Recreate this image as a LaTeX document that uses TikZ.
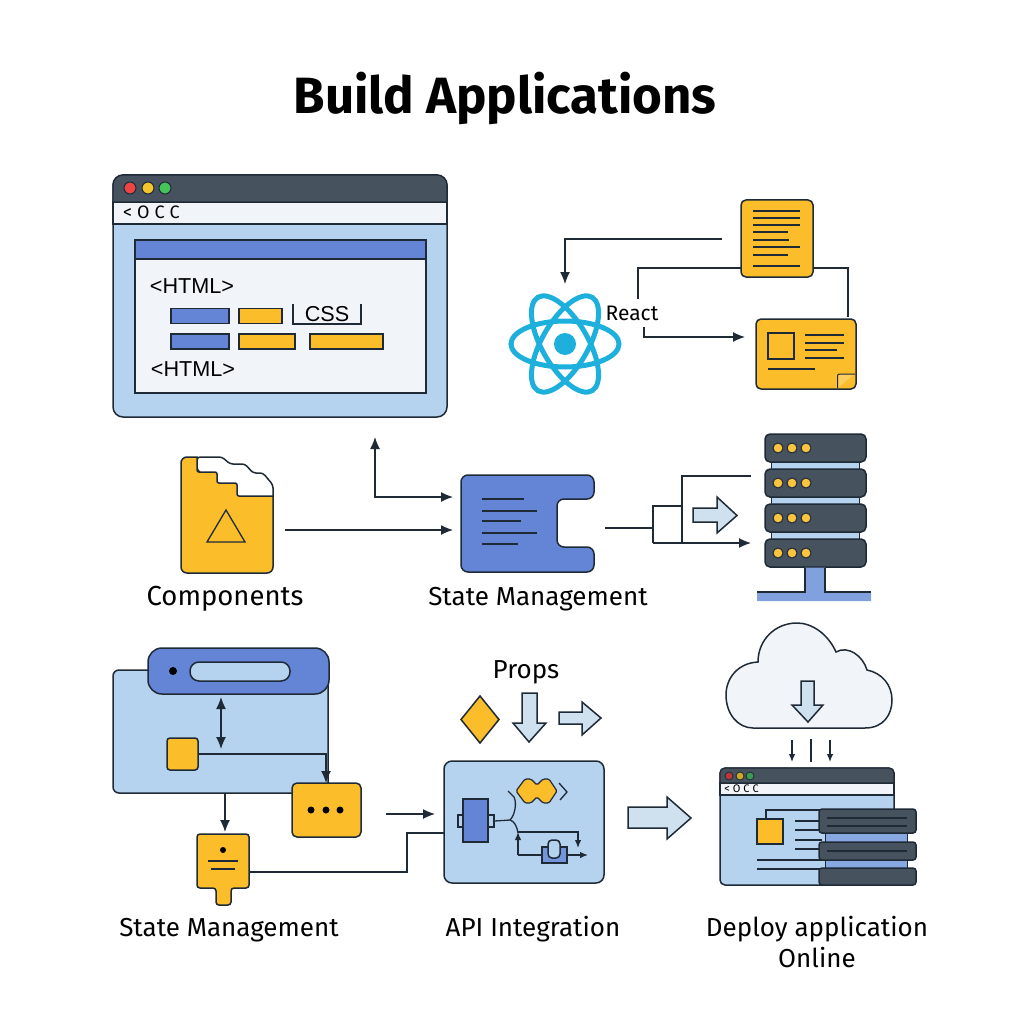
\documentclass[tikz,border=0pt]{standalone}
\usepackage{fontspec}
\setmainfont{Fira Sans}
\newfontfamily\arialfont{Liberation Sans}
\usetikzlibrary{arrows.meta}

\definecolor{ink}{HTML}{1F2A37}
\definecolor{slate}{HTML}{47525F}
\definecolor{sky}{HTML}{B5D3EE}
\definecolor{paper}{HTML}{F1F5F9}
\definecolor{royal}{HTML}{6484D6}
\definecolor{amber}{HTML}{FBBD2A}
\definecolor{pale}{HTML}{CFE0EE}
\definecolor{atomblue}{HTML}{1EB0DC}
\definecolor{lampred}{HTML}{EF4444}
\definecolor{lampyellow}{HTML}{F5C42C}
\definecolor{lampgreen}{HTML}{45C45C}

\tikzset{
    box/.style={draw=ink, line width=1.5, inner sep=0, rounded corners=#1},
    box/.default=3,
    link/.style={draw=ink, line width=1.3},
    arrowlink/.style={link, -{Latex[length=12,width=10]}},
    smallarrow/.style={link, -{Latex[length=8,width=6.5]}},
    thin line/.style={draw=ink, line width=1.3},
    bigarrow/.style={draw=ink, line width=1.5, fill=pale, line join=miter},
    dot/.style={circle, inner sep=0, draw=ink, line width=1},
    blackdot/.style={circle, inner sep=0, fill=black},
    caption/.style={font=\fontsize{26}{30}\selectfont, text=black, inner sep=0},
    small/.style={font=\arialfont\fontsize{21.6}{25}\selectfont, text=black, inner sep=0},
    barcode/.style={font=\fontsize{18}{20}\selectfont, text=black, inner sep=0},
}

\begin{document}
\begin{tikzpicture}[x=1pt, y=-1pt]
    \useasboundingbox (0,0) rectangle (1024,1024);
    \fill[white] (0,0) rectangle (1024,1024);

    \node[font=\bfseries\fontsize{51}{56}\selectfont, text=black, inner sep=0] (title) at (505,98) {Build Applications};

    % browser window, top left
    \node[box=10, fill=sky, minimum width=334, minimum height=242] (win) at (280,296) {};
    \fill[paper, draw=ink, line width=1.2] (113,202) rectangle (447,224);
    \filldraw[slate, draw=ink, line width=1.2] (113,202) {[rounded corners=10] -- (113,175) -- (447,175)} -- (447,202) -- cycle;
    \node[dot, fill=lampred, minimum size=12] (winR) at (130,188) {};
    \node[dot, fill=lampyellow, minimum size=12] (winY) at (148,188) {};
    \node[dot, fill=lampgreen, minimum size=12] (winG) at (165,188) {};
    \node[barcode] (winBar) at (151.5,212.5) {<\hspace{5pt}O\hspace{5pt}C\hspace{5pt}C};

    \node[box=0, fill=paper, minimum width=291, minimum height=153] (panel) at (280.5,316.5) {};
    \node[box=0, fill=royal, minimum width=291, minimum height=19] (panelTop) at (280.5,249.5) {};
    \node[small] (htmlA) at (192,286) {<HTML>};
    \node[small] (htmlB) at (193,369) {<HTML>};
    \node[box=0, fill=royal, minimum width=58, minimum height=15] (barA) at (200,316) {};
    \node[box=0, fill=amber, minimum width=43, minimum height=15] (barB) at (260.5,316) {};
    \node[box=0, fill=royal, minimum width=58, minimum height=15] (barC) at (200,341.5) {};
    \node[box=0, fill=amber, minimum width=56, minimum height=15] (barD) at (267,341.5) {};
    \node[box=0, fill=amber, minimum width=73, minimum height=15] (barE) at (346.5,341.5) {};
    \draw[thin line] (293,304) -- (293,324) -- (361,324) -- (361,304);
    \node[small] (css) at (327,314) {CSS};

    % react atom and its two cards
    \coordinate (atom) at (565,344);
    \foreach \a in {0,60,120}
        \draw[atomblue, line width=5] (atom) ellipse [x radius=54, y radius=23, rotate=\a];
    \node[circle, fill=atomblue, minimum size=22, inner sep=0] (atomCore) at (atom) {};
    \node[font=\fontsize{21}{25}\selectfont, text=black, inner sep=0] (react) at (632,313) {React};

    \node[box=5, fill=amber, minimum width=72, minimum height=77] (doc) at (777,238.5) {};
    \foreach \y/\e in {211/800, 218/800, 225/800, 232/788, 240/789, 247/800, 255/788, 266/800}
        \draw[thin line] (753,\y) -- (\e,\y);

    \node[box=5, fill=amber, minimum width=100, minimum height=70] (card) at (806,354) {};
    \node[box=0, fill=amber, minimum width=26, minimum height=26] (cardPic) at (781,346) {};
    \foreach \y/\e in {335/844, 343/844, 350/837, 358/844}
        \draw[thin line] (805,\y) -- (\e,\y);
    \draw[thin line] (768,369) -- (815,369);
    \filldraw[fill=amber!75!white, draw=ink, line width=1] (837.5,388) {[rounded corners=2] -- (837.5,374) -- (855,374)};

    \coordinate (docOut) at (722,239);
    \coordinate (atomIn) at (565,284);
    \draw[arrowlink] (docOut) -| (atomIn);
    \coordinate (docL) at (741,268);
    \coordinate (reactTop) at (638,299);
    \draw[link] (docL) -| (reactTop);
    \coordinate (docR) at (813,268);
    \coordinate (cardTop) at (848,317);
    \draw[link] (docR) -| (cardTop);
    \coordinate (reactOut) at (644,327);
    \coordinate (cardIn) at (745,337);
    \draw[arrowlink] (reactOut) |- (cardIn);

    % components folder
    \filldraw[fill=white, draw=ink, line width=1.5, rounded corners=3] (197,457) -- (222,457) -- (230,464) -- (245,464) -- (253,473) -- (263,473) -- (273,485) -- (273,500) -- (237,500) -- (197,470) -- cycle;
    \filldraw[fill=amber, draw=ink, line width=1.5] (197,457) {[rounded corners=2] -- (197,472) -- (217,472) -- (217,483) -- (237,483) -- (237,496)} -- (273,496) {[rounded corners=6] -- (273,573) -- (181,573) -- (181,457)} -- cycle;
    \draw[thin line] (226,510) -- (207,542) -- (245,542) -- cycle;
    \node[caption, font=\fontsize{27.5}{30}\selectfont] (compText) at (225,599) {Components};

    % state block with notch
    \filldraw[fill=royal, draw=ink, line width=1.5, rounded corners=7] (461,475) -- (594,475) -- (594,499) -- (557,499) -- (557,547) -- (594,547) -- (594,572) -- (461,572) -- cycle;
    \foreach \y/\e in {499/524, 511/537, 521/521, 533/537, 544/518}
        \draw[thin line] (482,\y) -- (\e,\y);
    \node[caption] (stateText) at (538,599) {State Management};

    \coordinate (folderOut) at (285,530);
    \coordinate (stateInB) at (453,530);
    \draw[arrowlink] (folderOut) -- (stateInB);
    \coordinate (winIn) at (375,437);
    \coordinate (stateInA) at (453,497);
    \draw[link, {Latex[length=12,width=10]}-{Latex[length=12,width=10]}] (winIn) |- (stateInA);

    % fork to the server rack
    \coordinate (stateOut) at (605,528);
    \coordinate (forkL) at (653,528);
    \coordinate (forkTop) at (653,506);
    \coordinate (forkBot) at (653,543);
    \coordinate (forkMid) at (682,506);
    \coordinate (forkHigh) at (682,476);
    \coordinate (forkLow) at (682,543);
    \coordinate (rackTop) at (751,476);
    \coordinate (rackIn) at (751,543);
    \draw[link] (stateOut) -- (forkL);
    \draw[link] (forkBot) -- (forkTop) -- (forkMid);
    \draw[link] (forkLow) -- (forkHigh) -- (rackTop);
    \draw[arrowlink] (forkBot) -- (rackIn);
    \draw[bigarrow] (693,508) -- (717,508) -- (717,497) -- (737,515.5) -- (717,533) -- (717,522) -- (693,522) -- cycle;

    % server rack
    \fill[sky, draw=ink, line width=1] (771,460) rectangle (859,541);
    \foreach \n/\y in {1/448,2/483,3/518,4/553} {
        \node[box=5, fill=slate, minimum width=101, minimum height=28] (rack\n) at (815.5,\y) {};
        \foreach \x in {778,792,806}
            \node[dot, fill=amber!90!white, minimum size=10] (rack\n-\x) at (\x,\y) {};
    }
    \fill[royal!65!sky] (805,567.5) rectangle (825,593) (757,592) rectangle (871,601);
    \draw[ink, line width=1.2] (805,568) -- (805,592) -- (757,592) (825,568) -- (825,592) -- (871,592);

    % app panel, bottom left
    \node[box=6, fill=sky, minimum width=215, minimum height=123] (app) at (220.5,731.5) {};
    \node[box=14, fill=royal, minimum width=181, minimum height=46] (appBar) at (238.5,671) {};
    \node[blackdot, minimum size=8] (appDot) at (173,671) {};
    \node[box=9, fill=sky, minimum width=100, minimum height=19] (appField) at (240,671.5) {};
    \node[box, fill=amber, minimum width=31, minimum height=32] (appSq) at (182.5,754) {};
    \node[box=5, fill=amber, minimum width=69, minimum height=54] (msg) at (326.5,810) {};
    \foreach \n/\x in {a/311,b/326,c/340}
        \node[blackdot, minimum size=7] (msg\n) at (\x,810) {};

    \coordinate (vTop) at (221,697);
    \coordinate (vBot) at (221,749);
    \draw[link, {Latex[length=12,width=10]}-{Latex[length=12,width=10]}] (vTop) -- (vBot);
    \coordinate (msgTop) at (326,783);
    \draw[arrowlink] (appSq.east) -| (msgTop);
    \coordinate (appBot) at (225,793);
    \coordinate (pinTop) at (225,832);
    \draw[arrowlink] (appBot) -- (pinTop);

    \filldraw[fill=amber, draw=ink, line width=1.5, rounded corners=3] (197,834) -- (249,834) -- (249,888) -- (231,888) -- (231,905) -- (216,905) -- (216,888) -- (197,888) -- cycle;
    \node[blackdot, minimum size=6] (pinDot) at (223,850) {};
    \draw[thin line] (208,861) -- (238,861);
    \draw[thin line] (211,869) -- (235,869);
    \node[caption] (stateBText) at (229,930) {State Management};

    % API block
    \node[caption] (props) at (526,672) {Props};
    \filldraw[fill=amber, draw=ink, line width=1.5] (461,719.5) -- (480,696) -- (499,719.5) -- (480,743) -- cycle;
    \draw[bigarrow] (522,693) -- (537,693) -- (537,723) -- (546,723) -- (529,742) -- (513,723) -- (522,723) -- cycle;
    \draw[bigarrow] (559,712) -- (582,712) -- (582,702) -- (601,718) -- (582,735) -- (582,724) -- (559,724) -- cycle;

    \node[box=8, fill=sky, minimum width=160, minimum height=122] (api) at (524,822) {};
    \node[box=0, fill=sky, minimum width=5, minimum height=12] (apiTabL) at (460.5,821) {};
    \node[box=0, fill=sky, minimum width=6, minimum height=12] (apiTabR) at (491,821) {};
    \node[box=0, fill=royal, minimum width=25, minimum height=43] (apiCore) at (475.5,820.5) {};
    \filldraw[fill=amber, draw=ink, line width=1.2, rounded corners=1.5] (516,791) -- (525,779) -- (531,779) -- (537,785) -- (543,779) -- (549,779) -- (557,791) -- (549,803) -- (543,803) -- (537,797) -- (531,803) -- (525,803) -- cycle;
    \draw[thin line] (559,783) -- (567,792) -- (560,800);
    \draw[thin line] (apiTabR.east) -- (510,820) .. controls (515,815) and (517,803) .. (514,797) -- (508,791);
    \draw[thin line] (510,820) .. controls (514,821) and (517,826) .. (518,833);
    \coordinate (apiJoin) at (518,832);
    \coordinate (apiFoot) at (518,855);
    \coordinate (apiDown) at (578,848);
    \draw[smallarrow] (apiFoot) -- (apiJoin);
    \draw[smallarrow] (apiJoin) -| (apiDown);
    \node[box=0, fill=royal!80!sky, minimum width=25, minimum height=16] (apiPart) at (554.5,855) {};
    \node[box=4, fill=sky, minimum width=12, minimum height=18] (apiCap) at (554,849) {};
    \coordinate (apiEnd) at (588,855);
    \draw[thin line] (apiFoot) -- (apiPart.west);
    \draw[smallarrow] (apiPart.east) -- (apiEnd);
    \node[caption] (apiText) at (533,929) {API Integration};

    \coordinate (msgOut) at (386,814);
    \coordinate (apiInA) at (435,814);
    \draw[arrowlink] (msgOut) -- (apiInA);
    \coordinate (pinOut) at (249,872);
    \coordinate (pinBend) at (407,872);
    \coordinate (apiBend) at (407,833);
    \coordinate (apiInB) at (444,833);
    \draw[link] (pinOut) -- (pinBend) -- (apiBend) -- (apiInB);

    \draw[bigarrow] (628,807) -- (667,807) -- (667,797) -- (691,818) -- (667,839) -- (667,828) -- (628,828) -- cycle;

    % cloud and deployed app
    \filldraw[fill=paper, draw=ink, line width=1.5] (753,728) -- (865,728) .. controls (884,728) and (892,714) .. (892,700) .. controls (892,685) and (882,673) .. (867,670) .. controls (863,656) and (848,645) .. (836,652) .. controls (828,634) and (812,623) .. (797,623) .. controls (775,623) and (758,640) .. (758,662) .. controls (738,663) and (726,678) .. (726,695) .. controls (726,714) and (738,728) .. (753,728) -- cycle;
    \draw[bigarrow] (801,681) -- (814,681) -- (814,705) -- (823,705) -- (808,722) -- (792,705) -- (801,705) -- cycle;
    \foreach \n/\x in {a/792,c/830} {
        \coordinate (cloud\n) at (\x,740);
        \coordinate (site\n) at (\x,762);
        \draw[smallarrow] (cloud\n) -- (site\n);
    }
    \coordinate (cloudb) at (811,739);
    \coordinate (siteb) at (811,762);
    \draw[link] (cloudb) -- (siteb);

    \node[box=5, fill=sky, minimum width=174, minimum height=117] (site) at (807,826.5) {};
    \fill[paper, draw=ink, line width=1.1] (720,783) rectangle (894,795);
    \filldraw[slate, draw=ink, line width=1.1] (720,783) {[rounded corners=5] -- (720,768) -- (894,768)} -- (894,783) -- cycle;
    \node[dot, fill=lampred!80!black, minimum size=8, line width=.8] (siteR) at (729,776) {};
    \node[dot, fill=lampyellow!85!black, minimum size=8, line width=.8] (siteY) at (740,776) {};
    \node[dot, fill=lampgreen!80!black, minimum size=8, line width=.8] (siteG) at (750,776) {};
    \node[font=\fontsize{11}{12}\selectfont, text=black, inner sep=0] (siteBar) at (741.5,789) {<\hspace{3pt}O\hspace{3pt}C\hspace{3pt}C};
    \node[box=0, fill=amber, minimum width=26, minimum height=25] (siteSq) at (770,831.5) {};
    \draw[thin line] (766,819) -- (766,810) -- (820,810);
    \foreach \y in {821,830,840,849}
        \draw[thin line] (795,\y) -- (822,\y);
    \foreach \y in {860,869}
        \draw[thin line] (757,\y) -- (822,\y);
    \fill[royal!55!sky, draw=ink, line width=1] (825,832) rectangle (907,869);
    \node[box=3, fill=slate, minimum width=97, minimum height=24] (stackA) at (867.5,821) {};
    \node[box=3, fill=slate, minimum width=97, minimum height=18] (stackB) at (867.5,851) {};
    \node[box=3, fill=slate, minimum width=97, minimum height=17] (stackC) at (867.5,876.5) {};
    \foreach \y in {818,826,851}
        \draw[thin line] (827,\y) -- (907,\y);
    \node[caption, align=center] (siteText) at (817,942) {Deploy application\\[1pt]Online};
\end{tikzpicture}
\end{document}
